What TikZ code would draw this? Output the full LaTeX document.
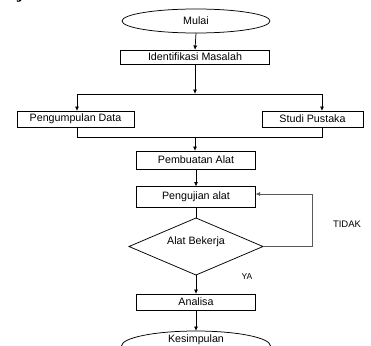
\documentclass[tikz,border=0pt]{standalone}
\usepackage{fontspec}
\setmainfont{Liberation Sans}
\newfontfamily\headfont{Liberation Serif}
\usetikzlibrary{shapes.geometric,arrows.meta}
\tikzset{
  every node/.style={inner sep=0pt, outer sep=0pt},
  ln/.style={draw=black, line width=0.75pt},
  fbln/.style={draw=black!65, line width=0.8pt},
  arr/.style={ln, -{Latex[length=4.5pt,width=4pt]}},
  procbox/.style={ln, rectangle, minimum width=119pt, font=\fontsize{10.7}{12}\selectfont},
  termin/.style={ln, ellipse, font=\fontsize{10.7}{12}\selectfont},
  decis/.style={ln, diamond, minimum width=134pt, minimum height=57pt},
  txt/.style={font=\fontsize{10.7}{12}\selectfont},
  lbl/.style={font=\fontsize{9.5}{11}\selectfont},
}
\begin{document}
\begin{tikzpicture}[x=1pt,y=-1pt]
\useasboundingbox (0,0) rectangle (371,345);
\clip (0,0) rectangle (371,345);
% heading fragment
\node[anchor=base, font=\headfont\bfseries\fontsize{18}{20}\selectfont] (frag) at (20,-1.5) {j};
% nodes
\node[termin, minimum width=148pt, minimum height=24pt] (mulai) at (196,21) {Mulai};
\node[procbox, minimum width=149pt, minimum height=14pt] (ident) at (195,57) {Identifikasi Masalah};
\node[procbox, minimum width=117pt, minimum height=16pt] (pd) at (75.5,119) {Pengumpulan Data};
\node[procbox, minimum width=101pt, minimum height=16pt] (sp) at (312.5,119) {Studi Pustaka};
\node[procbox, minimum height=18pt] (pa) at (196,160) {Pembuatan Alat};
\node[procbox, minimum height=21pt] (pu) at (196,197) {Pengujian alat};
\node[decis] (dia) at (196,246.5) {};
\node[txt] (diat) at (196,242) {Alat Bekerja};
\node[procbox, minimum height=16pt] (an) at (196,302) {Analisa};
\node[ln, ellipse, minimum width=149pt, minimum height=30pt] (kes) at (196,346) {};
\node[txt] (kest) at (196,340) {Kesimpulan};
\node[lbl] (tidak) at (347,224) {TIDAK};
\node[lbl, font=\fontsize{8.5}{10}\selectfont] (ya) at (247,277) {YA};
% coordinates
\coordinate (split) at (195,94);
\coordinate (cl) at (77,94);
\coordinate (cr) at (322,94);
\coordinate (ml) at (77,137);
\coordinate (mr) at (322,137);
\coordinate (mm) at (195,137);
\coordinate (fb) at (312.5,246.5);
\coordinate (fbt) at (312.5,194);
% connectors
\draw[arr] (mulai.south) -- (ident.north);
\draw[arr] (ident.south) -- (split);
\draw[ln] (cl) -- (cr);
\draw[arr] (cl) -- (pd.north -| cl);
\draw[arr] (cr) -- (sp.north -| cr);
\draw[ln] (pd.south -| ml) -- (ml) -- (mr) -- (sp.south -| mr);
\draw[arr] (mm) -- (pa.north -| mm);
\draw[arr] (pa.south) -- (pu.north);
\draw[ln] (pu.south) -- (dia.north);
\draw[arr] (dia.south) -- (an.north);
\draw[arr] (an.south) -- (kes.north);
\draw[fbln] (dia.east) -- (fb) -- (fbt);
\draw[fbln, -{Latex[length=4.5pt,width=4pt]}] (fbt) -- (pu.east |- fbt);
\end{tikzpicture}
\end{document}
